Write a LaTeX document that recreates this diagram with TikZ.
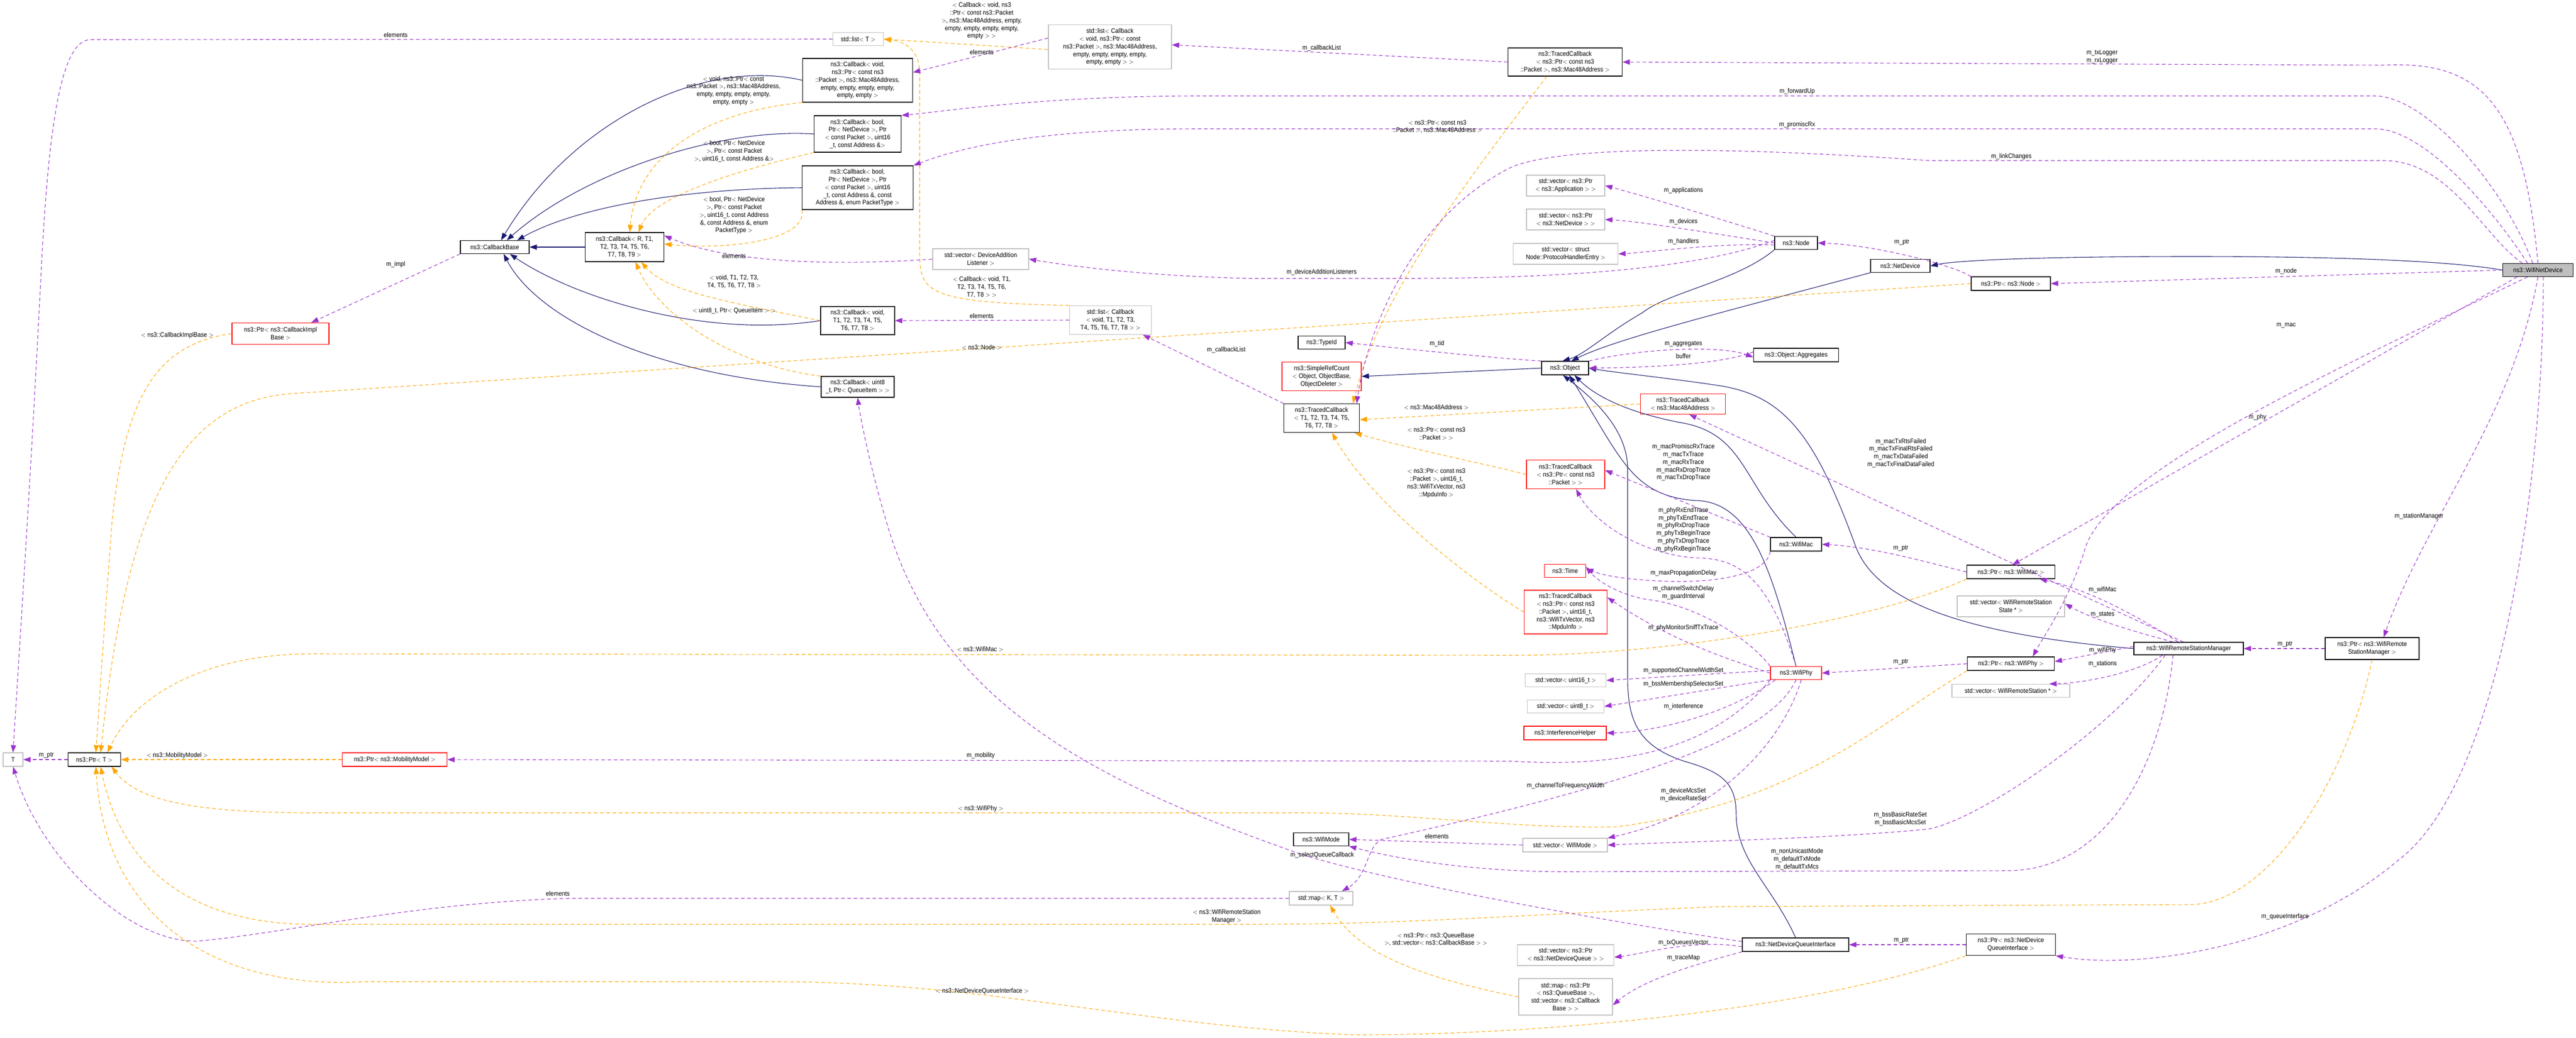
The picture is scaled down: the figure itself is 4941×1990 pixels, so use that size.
\documentclass[tikz,border=0pt]{standalone}
\usepackage{fontspec}
\setmainfont{Liberation Sans}[FakeStretch=0.9]
\usetikzlibrary{arrows.meta}
\definecolor{pu}{RGB}{154,50,205}
\definecolor{og}{RGB}{255,165,0}
\definecolor{bl}{RGB}{25,25,112}
\definecolor{gr}{RGB}{191,191,191}
\tikzset{
  box/.style={draw,line width=1.3pt,align=center,inner xsep=2pt,inner ysep=1pt,font=\fontsize{12.5}{14.8}\selectfont},
  blk/.style={box,draw=black},
  red/.style={box,draw=red},
  gry/.style={box,draw=gr},
  lbl/.style={align=center,inner sep=0pt,font=\fontsize{12.5}{14.8}\selectfont},
  pe/.style={draw=pu,line width=1.1pt,dash pattern=on 7pt off 5pt,-{Stealth[length=14pt,width=10pt,inset=0pt]}},
  oe/.style={draw=og,line width=1.1pt,dash pattern=on 7pt off 5pt,-{Stealth[length=14pt,width=10pt,inset=0pt]}},
  be/.style={draw=bl,line width=1.1pt,-{Stealth[length=14pt,width=10pt,inset=0pt]}},
}
\begin{document}
\begin{tikzpicture}[x=1pt,y=-1pt]
\useasboundingbox (0,0) rectangle (4941,1990);
% nodes
\node[blk,minimum width=132,minimum height=25] (cb) at (949,474) {ns3::CallbackBase};
\node[blk,minimum width=151,minimum height=56] (cbr) at (1198,474) {ns3::Callback$<$ R, T1,\\T2, T3, T4, T5, T6,\\T7, T8, T9 $>$};
\node[blk,minimum width=211,minimum height=84] (cbm) at (1645,154) {ns3::Callback$<$ void,\\ns3::Ptr$<$ const ns3\\::Packet $>$, ns3::Mac48Address,\\empty, empty, empty, empty,\\empty, empty $>$};
\node[blk,minimum width=167,minimum height=70] (cbb5) at (1645,257) {ns3::Callback$<$ bool,\\Ptr$<$ NetDevice $>$, Ptr\\$<$ const Packet $>$, uint16\\\_t, const Address \&$>$};
\node[blk,minimum width=213,minimum height=84] (cbb8) at (1645,360) {ns3::Callback$<$ bool,\\Ptr$<$ NetDevice $>$, Ptr\\$<$ const Packet $>$, uint16\\\_t, const Address \&, const\\Address \&, enum PacketType $>$};
\node[blk,minimum width=142,minimum height=54] (cbv) at (1645,615) {ns3::Callback$<$ void,\\T1, T2, T3, T4, T5,\\T6, T7, T8 $>$};
\node[blk,minimum width=140,minimum height=40] (cbu) at (1645,742) {ns3::Callback$<$ uint8\\\_t, Ptr$<$ QueueItem $>$ $>$};
\node[red,minimum width=186,minimum height=41] (cib) at (538,640) {ns3::Ptr$<$ ns3::CallbackImpl\\Base $>$};
\node[gry,minimum width=97,minimum height=25] (lt) at (1646,75) {std::list$<$ T $>$};
\node[gry,minimum width=38,minimum height=26] (T) at (25,1457) {T};
\node[blk,minimum width=101,minimum height=26] (pt) at (181,1457) {ns3::Ptr$<$ T $>$};
\node[red,minimum width=201,minimum height=26] (pmm) at (757,1457) {ns3::Ptr$<$ ns3::MobilityModel $>$};
\node[gry,minimum width=236,minimum height=85] (lcm) at (2129,90) {std::list$<$ Callback\\$<$ void, ns3::Ptr$<$ const\\ns3::Packet $>$, ns3::Mac48Address,\\empty, empty, empty, empty,\\empty, empty $>$ $>$};
\node[gry,minimum width=157,minimum height=55] (lcv) at (2130,614) {std::list$<$ Callback\\$<$ void, T1, T2, T3,\\T4, T5, T6, T7, T8 $>$ $>$};
\node[gry,minimum width=184,minimum height=40] (vda) at (1881,497) {std::vector$<$ DeviceAddition\\Listener $>$};
\node[blk,minimum width=219,minimum height=54] (tcm) at (3002,119) {ns3::TracedCallback\\$<$ ns3::Ptr$<$ const ns3\\::Packet $>$, ns3::Mac48Address $>$};
\node[blk,minimum width=90,minimum height=25] (tid) at (2535,657) {ns3::TypeId};
\node[red,minimum width=152,minimum height=55] (src) at (2535,722) {ns3::SimpleRefCount\\$<$ Object, ObjectBase,\\ObjectDeleter $>$};
\node[blk,minimum width=145,minimum height=55] (tct) at (2535,802) {ns3::TracedCallback\\$<$ T1, T2, T3, T4, T5,\\T6, T7, T8 $>$};
\node[gry,minimum width=150,minimum height=40] (vapp) at (3003,356) {std::vector$<$ ns3::Ptr\\$<$ ns3::Application $>$ $>$};
\node[gry,minimum width=150,minimum height=40] (vdev) at (3003,421) {std::vector$<$ ns3::Ptr\\$<$ ns3::NetDevice $>$ $>$};
\node[gry,minimum width=201,minimum height=40] (vph) at (3003,487) {std::vector$<$ struct\\Node::ProtocolHandlerEntry $>$};
\node[blk,minimum width=82,minimum height=25] (node) at (3445,466) {ns3::Node};
\node[blk,minimum width=114,minimum height=25] (nd) at (3645,510) {ns3::NetDevice};
\node[box,draw=black,fill=gr,minimum width=135,minimum height=25] (wnd) at (4868,518) {ns3::WifiNetDevice};
\node[blk,minimum width=152,minimum height=26] (pnode) at (3857,544) {ns3::Ptr$<$ ns3::Node $>$};
\node[blk,minimum width=90,minimum height=26] (obj) at (3002,706) {ns3::Object};
\node[blk,minimum width=163,minimum height=26] (agg) at (3445,681) {ns3::Object::Aggregates};
\node[red,minimum width=163,minimum height=39] (tcmac) at (3228,775) {ns3::TracedCallback\\$<$ ns3::Mac48Address $>$};
\node[red,minimum width=150,minimum height=55] (tcp) at (3003,910) {ns3::TracedCallback\\$<$ ns3::Ptr$<$ const ns3\\::Packet $>$ $>$};
\node[blk,minimum width=98,minimum height=26] (wmac) at (3445,1044) {ns3::WifiMac};
\node[red,minimum width=79,minimum height=25] (time) at (3002,1095) {ns3::Time};
\node[red,minimum width=159,minimum height=84] (tcx) at (3003,1174) {ns3::TracedCallback\\$<$ ns3::Ptr$<$ const ns3\\::Packet $>$, uint16\_t,\\ns3::WifiTxVector, ns3\\::MpduInfo $>$};
\node[red,minimum width=98,minimum height=25] (wphy) at (3445,1291) {ns3::WifiPhy};
\node[blk,minimum width=169,minimum height=26] (pwm) at (3857,1097) {ns3::Ptr$<$ ns3::WifiMac $>$};
\node[gry,minimum width=206,minimum height=40] (vwss) at (3857,1163) {std::vector$<$ WifiRemoteStation\\State * $>$};
\node[blk,minimum width=167,minimum height=26] (pwp) at (3857,1273) {ns3::Ptr$<$ ns3::WifiPhy $>$};
\node[gry,minimum width=226,minimum height=25] (vws) at (3857,1325) {std::vector$<$ WifiRemoteStation * $>$};
\node[gry,minimum width=155,minimum height=25] (v16) at (3003,1305) {std::vector$<$ uint16\_t $>$};
\node[gry,minimum width=147,minimum height=25] (v8) at (3003,1355) {std::vector$<$ uint8\_t $>$};
\node[red,minimum width=158,minimum height=26] (ih) at (3002,1406) {ns3::InterferenceHelper};
\node[blk,minimum width=106,minimum height=25] (wm) at (2534,1610) {ns3::WifiMode};
\node[gry,minimum width=162,minimum height=26] (vwm) at (3002,1621) {std::vector$<$ WifiMode $>$};
\node[gry,minimum width=122,minimum height=26] (mkt) at (2534,1723) {std::map$<$ K, T $>$};
\node[gry,minimum width=185,minimum height=40] (vndq) at (3003,1832) {std::vector$<$ ns3::Ptr\\$<$ ns3::NetDeviceQueue $>$ $>$};
\node[gry,minimum width=180,minimum height=70] (mqb) at (3003,1912) {std::map$<$ ns3::Ptr\\$<$ ns3::QueueBase $>$,\\std::vector$<$ ns3::Callback\\Base $>$ $>$};
\node[blk,minimum width=210,minimum height=24] (wrsm) at (4198,1244) {ns3::WifiRemoteStationManager};
\node[blk,minimum width=180,minimum height=42] (pwrsm) at (4550,1244) {ns3::Ptr$<$ ns3::WifiRemote\\StationManager $>$};
\node[blk,minimum width=204,minimum height=26] (ndqi) at (3444,1812) {ns3::NetDeviceQueueInterface};
\node[blk,minimum width=171,minimum height=41] (pndqi) at (3857,1812) {ns3::Ptr$<$ ns3::NetDevice\\QueueInterface $>$};

% inheritance
\draw[be] (cbr.west) -- (cb.east);
\draw[be] (cbm.west) .. controls (1350,110) and (1100,230) .. ([xshift=12]cb.north);
\draw[be] (cbb5.west) .. controls (1380,245) and (1120,330) .. ([xshift=23]cb.north);
\draw[be] (cbb8.west) .. controls (1300,362) and (1100,400) .. ([xshift=43]cb.north);
\draw[be] (cbv.west) .. controls (1350,650) and (1100,570) .. ([xshift=29]cb.south);
\draw[be] (cbu.west) .. controls (1250,720) and (1030,610) .. ([xshift=17]cb.south);
\draw[be] (wnd.west) .. controls (4650,492) and (4300,492) .. (4200,492) .. controls (3900,492) and (3750,500) .. (nd.east);
\draw[be] (node.south west) .. controls (3330,540) and (3200,560) .. (3150,600) .. controls (3080,640) and (3040,680) .. ([xshift=-5]obj.north);
\draw[be] (nd.south west) .. controls (3300,600) and (3100,650) .. ([xshift=12]obj.north);
\draw[be] (obj.west) -- (src.east);
\draw[be] (wrsm.west) .. controls (3750,1215) and (3600,1150) .. (3560,1050) .. controls (3480,830) and (3420,760) .. (3300,740) .. controls (3200,725) and (3100,715) .. (obj.east);
\draw[be] (wmac.north) .. controls (3340,930) and (3350,830) .. (3220,810) .. controls (3120,790) and (3060,760) .. ([xshift=18]obj.south);
\draw[be] (wphy.north) .. controls (3400,1100) and (3360,960) .. (3250,960) .. controls (3130,950) and (3110,880) .. ([xshift=8]obj.south);
\draw[be] (ndqi.north) .. controls (3400,1700) and (3330,1650) .. (3330,1560) .. controls (3330,1500) and (3300,1480) .. (3230,1460) .. controls (3140,1430) and (3122,1380) .. (3122,1300) -- (3122,900) .. controls (3122,820) and (3050,760) .. ([xshift=-4]obj.south);

% orange template edges
\draw[oe] (cbm.south west) .. controls (1350,215) and (1220,300) .. ([xshift=10]cbr.north);
\draw[oe] (cbb5.south west) .. controls (1400,330) and (1250,380) .. ([xshift=27]cbr.north);
\draw[oe] (cbb8.south west) .. controls (1550,460) and (1400,480) .. ([yshift=6]cbr.east);
\draw[oe] (cbv.west) .. controls (1400,580) and (1280,560) .. ([xshift=32]cbr.south);
\draw[oe] (cbu.north west) .. controls (1400,700) and (1260,600) .. ([xshift=21]cbr.south);
\draw[oe] ([yshift=-5]lcm.west) -- (lt.east);
\draw[oe] (lcv.north west) .. controls (1770,580) and (1764,560) .. (1764,480) -- (1764,140) .. controls (1764,100) and (1740,80) .. (lt.east);
\draw[oe] (cib.west) .. controls (300,660) and (240,760) .. (215,1000) .. controls (200,1200) and (190,1350) .. ([xshift=3]pt.north);
\draw[oe] (pnode.west) -- (560,755) .. controls (330,770) and (240,1000) .. ([xshift=12]pt.north);
\draw[oe] (pwm.south west) .. controls (3600,1190) and (3200,1257) .. (2900,1257) -- (600,1254) .. controls (400,1254) and (260,1330) .. ([xshift=25]pt.north);
\draw[oe] (pmm.west) -- (pt.east);
\draw[oe] (pwp.south west) .. controls (3600,1390) and (3450,1540) .. (3100,1586) .. controls (2900,1590) and (2700,1559) .. (2500,1559) -- (600,1559) .. controls (350,1559) and (260,1530) .. ([xshift=33]pt.south);
\draw[oe] (pwrsm.south) .. controls (4500,1500) and (4350,1735) .. (4200,1735) -- (3300,1739) .. controls (2900,1755) and (2700,1773) .. (2400,1773) -- (600,1773) .. controls (350,1773) and (230,1650) .. ([xshift=12]pt.south);
\draw[oe] (pndqi.south west) .. controls (3500,1930) and (3000,1985) .. (2600,1985) .. controls (2200,1970) and (1900,1885) .. (1500,1883) -- (700,1883) .. controls (400,1900) and (200,1750) .. ([xshift=3]pt.south);
\draw[oe] ([xshift=-35]tcm.south) .. controls (2850,300) and (2650,550) .. ([xshift=60]tct.north);
\draw[oe] (tcmac.west) -- ([yshift=-3]tct.east);
\draw[oe] (tcp.west) .. controls (2850,890) and (2700,860) .. ([xshift=-10]tct.south east);
\draw[oe] (tcx.west) .. controls (2800,1100) and (2620,950) .. ([xshift=20]tct.south);
\draw[oe] (mqb.west) .. controls (2700,1870) and (2600,1820) .. ([xshift=17]mkt.south);

% purple member edges
\draw[pe] (vda.west) .. controls (1600,510) and (1400,505) .. ([yshift=22]cbr.east);
\draw[pe] ([yshift=17]lcm.west) -- ([yshift=15]cbm.east);
\draw[pe] (lcv.west) -- (cbv.east);
\draw[pe] (lt.west) -- (172,76) .. controls (120,80) and (95,220) .. (80,500) .. controls (60,900) and (40,1200) .. (T.north);
\draw[pe] (cb.south west) -- ([xshift=59]cib.north);
\draw[pe] (pt.west) -- (T.east);
\draw[pe] (wphy.south west) .. controls (3300,1420) and (3150,1475) .. (2900,1460) -- (pmm.east);
\draw[pe] (mkt.west) -- (1100,1723) .. controls (800,1730) and (550,1790) .. (380,1805) .. controls (250,1810) and (80,1650) .. (T.south);
\draw[pe] (wnd.north) .. controls (4840,200) and (4760,115) .. (4570,125) -- (tcm.east);
\draw[pe] ([xshift=-10]wnd.north) .. controls (4800,350) and (4650,184) .. (4555,184) -- (2300,184) .. controls (2000,184) and (1800,215) .. (cbb5.north east);
\draw[pe] ([xshift=-20]wnd.north) .. controls (4780,400) and (4650,247) .. (4555,247) -- (2300,247) .. controls (2000,247) and (1850,280) .. (cbb8.north east);
\draw[pe] ([xshift=-30]wnd.north) .. controls (4760,450) and (4700,308) .. (4571,308) -- (3700,308) .. controls (3300,280) and (3000,280) .. (2900,320) .. controls (2700,420) and (2620,650) .. ([xshift=-6]tct.north east);
\draw[pe] (wnd.west) -- (pnode.east);
\draw[pe] ([xshift=-40]wnd.south) -- ([xshift=3]pwm.north);
\draw[pe] ([xshift=-20]wnd.south) .. controls (4500,700) and (4050,900) .. (4000,1050) .. controls (3970,1150) and (3920,1220) .. ([xshift=42]pwp.north);
\draw[pe] (wnd.south) .. controls (4820,800) and (4650,1000) .. ([xshift=22]pwrsm.north);
\draw[pe] ([xshift=10]wnd.south) .. controls (4880,900) and (4800,1500) .. (4600,1650) .. controls (4400,1820) and (4100,1860) .. (pndqi.south east);
\draw[pe] (pwrsm.west) -- (wrsm.east);
\draw[pe] ([xshift=-20]wrsm.north) .. controls (4080,1170) and (4000,1130) .. ([xshift=-30]pwm.south east);
\draw[pe] ([xshift=-30]wrsm.north) .. controls (4050,1200) and (4000,1180) .. ([yshift=5]vwss.east);
\draw[pe] ([yshift=4]wrsm.west) -- ([yshift=4]pwp.east);
\draw[pe] ([xshift=-50]wrsm.south) .. controls (4100,1290) and (4000,1310) .. ([xshift=-40]vws.north east);
\draw[pe] ([xshift=-10]wrsm.north) -- ([xshift=-70]tcmac.south east);
\draw[pe] ([xshift=-45]wrsm.south) .. controls (4050,1400) and (3800,1570) .. (3700,1590) .. controls (3500,1610) and (3200,1615) .. (vwm.east);
\draw[pe] ([xshift=-30]wrsm.south) .. controls (4150,1450) and (4050,1670) .. (3850,1670) -- (3000,1672) .. controls (2800,1672) and (2650,1640) .. (wm.south east);
\draw[pe] (obj.north west) .. controls (2900,690) and (2700,670) .. (tid.east);
\draw[pe] (obj.north east) .. controls (3150,668) and (3300,662) .. ([yshift=-4]agg.west);
\draw[pe] ([yshift=6]agg.west) .. controls (3300,700) and (3150,705) .. (obj.east);
\draw[pe] (node.north west) .. controls (3300,420) and (3150,375) .. (vapp.east);
\draw[pe] (node.west) .. controls (3300,450) and (3150,425) .. (vdev.east);
\draw[pe] ([yshift=-4]node.west) .. controls (3300,465) and (3150,485) .. (vph.east);
\draw[pe] ([yshift=5]node.west) .. controls (3300,500) and (3100,534) .. (2700,534) -- (2400,534) .. controls (2200,530) and (2050,510) .. (vda.east);
\draw[pe] (pnode.north west) .. controls (3750,510) and (3600,470) .. (node.east);
\draw[pe] (tcm.west) -- ([yshift=4]lcm.east);
\draw[pe] (tct.north west) -- ([xshift=-17]lcv.south east);
\draw[pe] (wmac.north west) -- ([yshift=8]tcp.east);
\draw[pe] (wphy.north) .. controls (3390,1100) and (3330,1070) .. (3250,1070) .. controls (3130,1060) and (3050,990) .. ([xshift=20]tcp.south);
\draw[pe] (wmac.south west) .. controls (3390,1100) and (3300,1118) .. (3200,1115) .. controls (3120,1112) and (3080,1105) .. ([yshift=4]time.east);
\draw[pe] (wphy.north west) .. controls (3350,1220) and (3250,1160) .. (3160,1150) .. controls (3100,1140) and (3060,1110) .. ([yshift=8]time.east);
\draw[pe] (wphy.west) .. controls (3300,1260) and (3200,1225) .. ([yshift=28]tcx.east);
\draw[pe] ([yshift=5]wphy.west) -- (v16.east);
\draw[pe] (wphy.south west) -- (v8.east);
\draw[pe] ([xshift=10]wphy.south west) .. controls (3300,1380) and (3150,1405) .. (ih.east);
\draw[pe] (wphy.south) .. controls (3400,1400) and (3200,1490) .. (2650,1610) .. controls (2620,1625) and (2625,1680) .. ([xshift=40]mkt.north);
\draw[pe] ([xshift=10]wphy.south) .. controls (3420,1420) and (3300,1560) .. (vwm.north east);
\draw[pe] (vwm.west) -- (wm.east);
\draw[pe] (pwp.west) -- (wphy.east);
\draw[pe] (pwm.west) .. controls (3700,1080) and (3600,1050) .. (wmac.east);
\draw[pe] (pndqi.west) -- (ndqi.east);
\draw[pe] ([yshift=-4]ndqi.west) .. controls (3250,1800) and (3150,1830) .. ([yshift=-4]vndq.east);
\draw[pe] (ndqi.south west) .. controls (3250,1850) and (3150,1880) .. ([yshift=-16]mqb.east);
\draw[pe] ([yshift=6]ndqi.west) .. controls (3100,1770) and (2700,1700) .. (2500,1640) .. controls (2100,1500) and (1800,1350) .. (1700,1000) .. controls (1670,900) and (1650,800) .. (cbu.south);

% labels
\node[lbl] (L1) at (759,67) {elements};
\node[lbl] (L2) at (340,643) {$<$ ns3::CallbackImplBase $>$};
\node[lbl] (L3) at (759,507) {m\_impl};
\node[lbl] (L4) at (1407,174) {$<$ void, ns3::Ptr$<$ const\\ns3::Packet $>$, ns3::Mac48Address,\\empty, empty, empty, empty,\\empty, empty $>$};
\node[lbl] (L5) at (1408,290) {$<$ bool, Ptr$<$ NetDevice\\$>$, Ptr$<$ const Packet\\$>$, uint16\_t, const Address \&$>$};
\node[lbl] (L6) at (1408,413) {$<$ bool, Ptr$<$ NetDevice\\$>$, Ptr$<$ const Packet\\$>$, uint16\_t, const Address\\\&, const Address \&, enum\\PacketType $>$};
\node[lbl] (L7) at (1408,491) {elements};
\node[lbl] (L8) at (1408,540) {$<$ void, T1, T2, T3,\\T4, T5, T6, T7, T8 $>$};
\node[lbl] (L9) at (1408,596) {$<$ uint8\_t, Ptr$<$ QueueItem $>$ $>$};
\node[lbl] (L10) at (1883,40) {$<$ Callback$<$ void, ns3\\::Ptr$<$ const ns3::Packet\\$>$, ns3::Mac48Address, empty,\\empty, empty, empty, empty,\\empty $>$ $>$};
\node[lbl] (L11) at (1883,100) {elements};
\node[lbl] (L12) at (2535,92) {m\_callbackList};
\node[lbl] (L13) at (2535,522) {m\_deviceAdditionListeners};
\node[lbl] (L14) at (1883,551) {$<$ Callback$<$ void, T1,\\T2, T3, T4, T5, T6,\\T7, T8 $>$ $>$};
\node[lbl] (L15) at (1883,606) {elements};
\node[lbl] (L16) at (1883,666) {$<$ ns3::Node $>$};
\node[lbl] (L17) at (2352,671) {m\_callbackList};
\node[lbl] (L18) at (3447,175) {m\_forwardUp};
\node[lbl] (L19) at (3447,239) {m\_promiscRx};
\node[lbl] (L20) at (2757,243) {$<$ ns3::Ptr$<$ const ns3\\::Packet $>$, ns3::Mac48Address $>$};
\node[lbl] (L21) at (3229,365) {m\_applications};
\node[lbl] (L22) at (3229,425) {m\_devices};
\node[lbl] (L23) at (3229,463) {m\_handlers};
\node[lbl] (L24) at (3648,465) {m\_ptr};
\node[lbl] (L25) at (3229,660) {m\_aggregates};
\node[lbl] (L26) at (3229,683) {buffer};
\node[lbl] (L27) at (2756,659) {m\_tid};
\node[lbl] (L28) at (4032,109) {m\_txLogger\\m\_rxLogger};
\node[lbl] (L29) at (3858,300) {m\_linkChanges};
\node[lbl] (L30) at (4385,520) {m\_node};
\node[lbl] (L31) at (4385,624) {m\_mac};
\node[lbl] (L32) at (4330,800) {m\_phy};
\node[lbl] (L33) at (4640,990) {m\_stationManager};
\node[lbl] (L34) at (2755,781) {$<$ ns3::Mac48Address $>$};
\node[lbl] (L35) at (2755,832) {$<$ ns3::Ptr$<$ const ns3\\::Packet $>$ $>$};
\node[lbl] (L36) at (2755,927) {$<$ ns3::Ptr$<$ const ns3\\::Packet $>$, uint16\_t,\\ns3::WifiTxVector, ns3\\::MpduInfo $>$};
\node[lbl] (L37) at (3229,887) {m\_macPromiscRxTrace\\m\_macTxTrace\\m\_macRxTrace\\m\_macRxDropTrace\\m\_macTxDropTrace};
\node[lbl] (L38) at (3646,869) {m\_macTxRtsFailed\\m\_macTxFinalRtsFailed\\m\_macTxDataFailed\\m\_macTxFinalDataFailed};
\node[lbl] (L39) at (3229,1016) {m\_phyRxEndTrace\\m\_phyTxEndTrace\\m\_phyRxDropTrace\\m\_phyTxBeginTrace\\m\_phyTxDropTrace\\m\_phyRxBeginTrace};
\node[lbl] (L40) at (3229,1099) {m\_maxPropagationDelay};
\node[lbl] (L41) at (3229,1137) {m\_channelSwitchDelay\\m\_guardInterval};
\node[lbl] (L42) at (3229,1204) {m\_phyMonitorSniffTxTrace};
\node[lbl] (L43) at (3646,1052) {m\_ptr};
\node[lbl] (L44) at (3646,1270) {m\_ptr};
\node[lbl] (L45) at (4033,1131) {m\_wifiMac};
\node[lbl] (L46) at (4033,1179) {m\_states};
\node[lbl] (L47) at (4033,1247) {m\_wifiPhy};
\node[lbl] (L48) at (4033,1273) {m\_stations};
\node[lbl] (L49) at (4383,1236) {m\_ptr};
\node[lbl] (L50) at (3229,1286) {m\_supportedChannelWidthSet};
\node[lbl] (L51) at (3229,1312) {m\_bssMembershipSelectorSet};
\node[lbl] (L52) at (3229,1355) {m\_interference};
\node[lbl] (L53) at (3003,1507) {m\_channelToFrequencyWidth};
\node[lbl] (L54) at (3229,1525) {m\_deviceMcsSet\\m\_deviceRateSet};
\node[lbl] (L55) at (2756,1604) {elements};
\node[lbl] (L56) at (2536,1640) {m\_selectQueueCallback};
\node[lbl] (L57) at (2353,1758) {$<$ ns3::WifiRemoteStation\\Manager $>$};
\node[lbl] (L58) at (2754,1802) {$<$ ns3::Ptr$<$ ns3::QueueBase\\$>$, std::vector$<$ ns3::CallbackBase $>$ $>$};
\node[lbl] (L59) at (3229,1808) {m\_txQueuesVector};
\node[lbl] (L60) at (3229,1837) {m\_traceMap};
\node[lbl] (L61) at (3647,1804) {m\_ptr};
\node[lbl] (L62) at (4383,1758) {m\_queueInterface};
\node[lbl] (L63) at (3645,1571) {m\_bssBasicRateSet\\m\_bssBasicMcsSet};
\node[lbl] (L64) at (3447,1648) {m\_nonUnicastMode\\m\_defaultTxMode\\m\_defaultTxMcs};
\node[lbl] (L65) at (1881,1449) {m\_mobility};
\node[lbl] (L66) at (1881,1551) {$<$ ns3::WifiPhy $>$};
\node[lbl] (L67) at (1884,1901) {$<$ ns3::NetDeviceQueueInterface $>$};
\node[lbl] (L68) at (1880,1245) {$<$ ns3::WifiMac $>$};
\node[lbl] (L69) at (1070,1714) {elements};
\node[lbl] (L70) at (89,1449) {m\_ptr};
\node[lbl] (L71) at (340,1449) {$<$ ns3::MobilityModel $>$};
\end{tikzpicture}
\end{document}
